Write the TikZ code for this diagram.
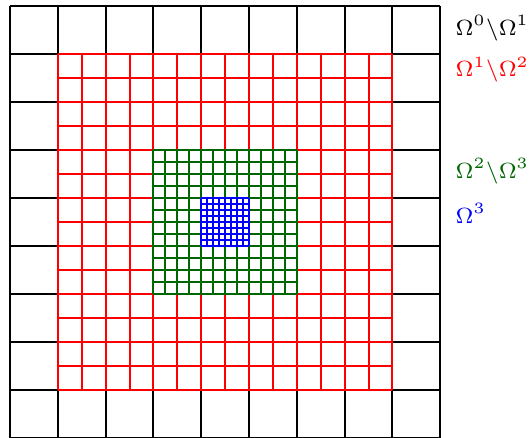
\documentclass[tikz,border=0pt]{standalone}
\begin{document}
\begin{tikzpicture}[x=0.75pt,y=-0.75pt,
  gridline/.style={line width=1.5pt},
  lab/.style={anchor=base west,inner sep=0pt,scale=2.36,font=\fontsize{7}{8}\selectfont}]
\useasboundingbox (0,0) rectangle (531,437);
\def\h{47.8}
\def\v{47.95}
% level 0
\foreach \i in {0,...,9} {
  \draw[gridline,black] (10+\i*\h,6) -- (10+\i*\h,6+9*\v);
  \draw[gridline,black] (10,6+\i*\v) -- (10+9*\h,6+\i*\v);
}
% level 1
\fill[white] (10+\h,6+\v) rectangle (10+8*\h,6+8*\v);
\foreach \i in {0,...,14} {
  \draw[gridline,red] (10+\h+\i*\h/2,6+\v) -- (10+\h+\i*\h/2,6+8*\v);
  \draw[gridline,red] (10+\h,6+\v+\i*\v/2) -- (10+8*\h,6+\v+\i*\v/2);
}
% level 2
\fill[white] (10+3*\h,6+3*\v) rectangle (10+6*\h,6+6*\v);
\foreach \i in {0,...,12} {
  \draw[gridline,green!40!black] (10+3*\h+\i*\h/4,6+3*\v) -- (10+3*\h+\i*\h/4,6+6*\v);
  \draw[gridline,green!40!black] (10+3*\h,6+3*\v+\i*\v/4) -- (10+6*\h,6+3*\v+\i*\v/4);
}
% level 3
\fill[white] (10+4*\h,6+4*\v) rectangle (10+5*\h,6+5*\v);
\foreach \i in {0,...,8} {
  \draw[gridline,blue] (10+4*\h+\i*\h/8,6+4*\v) -- (10+4*\h+\i*\h/8,6+5*\v);
  \draw[gridline,blue] (10+4*\h,6+4*\v+\i*\v/8) -- (10+5*\h,6+4*\v+\i*\v/8);
}
\node[lab,text=black] (l0) at (455,35) {$\Omega^0\backslash\Omega^1$};
\node[lab,text=red] (l1) at (455,76.7) {$\Omega^1\backslash\Omega^2$};
\node[lab,text=green!40!black] (l2) at (455,178) {$\Omega^2\backslash\Omega^3$};
\node[lab,text=blue] (l3) at (455,223) {$\Omega^3$};
\end{tikzpicture}
\end{document}
